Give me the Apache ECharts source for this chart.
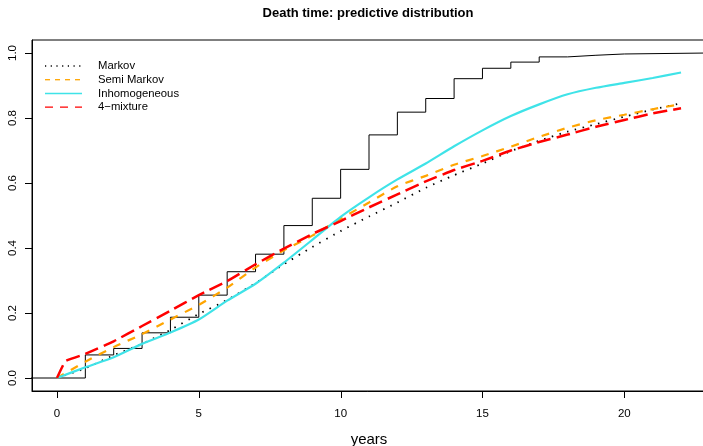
<!DOCTYPE html>
<html>
<head>
<meta charset="utf-8">
<script src="https://cdn.jsdelivr.net/npm/echarts@6/dist/echarts.min.js"></script>
<style>
  html, body { margin: 0; padding: 0; background: #fff; }
  #chart { width: 703px; height: 446px; }
</style>
</head>
<body>
<div id="chart"></div>
<script>
// curves, one value per year
const years = [0,1,2,3,4,5,6,7,8,9,10,11,12,13,14,15,16,17,18,19,20,21,22];
const markov = [0,0.03,0.07,0.105,0.148,0.197,0.24,0.292,0.35,0.403,0.452,0.497,0.54,0.585,0.624,0.66,0.698,0.73,0.758,0.781,0.804,0.826,0.845];
const semiMarkov = [0,0.05,0.095,0.135,0.18,0.225,0.278,0.34,0.393,0.438,0.49,0.54,0.59,0.622,0.656,0.683,0.712,0.742,0.77,0.793,0.81,0.827,0.843];
const inhomogeneous = [0,0.033,0.064,0.105,0.14,0.18,0.238,0.29,0.355,0.425,0.496,0.556,0.611,0.66,0.713,0.762,0.806,0.842,0.873,0.893,0.908,0.923,0.94];
// 4-mixture jumps just after 0
const mixtureYears = [0,0.3,1,2,3,4,5,6,7,8,9,10,11,12,13,14,15,16,17,18,19,20,21,22];
const mixture = [0,0.052,0.074,0.113,0.16,0.207,0.255,0.298,0.35,0.398,0.443,0.483,0.525,0.565,0.605,0.64,0.668,0.70,0.726,0.749,0.773,0.794,0.814,0.83];
// observed step function
const stepYears = [-1,0,1,2,3,4,5,6,7,8,9,10,11,12,13,14,15,16,17,18,19,20,23];
const stepValues = [0,0,0.071,0.091,0.139,0.187,0.255,0.327,0.381,0.469,0.553,0.642,0.748,0.818,0.86,0.921,0.953,0.972,0.988,0.993,0.997,1,1];

const xTicks = [0,5,10,15,20];
const yTicks = [0,0.2,0.4,0.6,0.8,1];
const xRange = [-0.88, 22.88];
const yRange = [-0.04, 1.04];

const font = 'Liberation Sans, Arial, Helvetica, sans-serif';
const W = 703, H = 446;
const gridPos = { left: 32, top: 40, right: -3, bottom: 55 };

const pairs = (xs, ys) => xs.map((x, i) => [x, ys[i]]);

const chart = echarts.init(document.getElementById('chart'));

const legendItems = [
  { name: 'Markov', color: '#000', width: 1.3, dash: [1.2, 4.5] },
  { name: 'Semi Markov', color: '#FFA500', width: 1.3, dash: [5, 5] },
  { name: 'Inhomogeneous', color: '#3FE3E8', width: 1.5, dash: null },
  { name: '4\u2212mixture', color: '#FF0000', width: 1.3, dash: [8, 7] }
];

const graphics = [
  {
    type: 'text', x: 368, y: 13,
    style: { text: 'Death time: predictive distribution', fill: '#000', font: 'bold 13px ' + font, align: 'center', verticalAlign: 'middle' }
  }
];
legendItems.forEach((it, i) => {
  const y = 66 + i * 13.7;
  graphics.push({
    type: 'line',
    shape: { x1: 45, y1: y, x2: 82, y2: y },
    style: { stroke: it.color, lineWidth: it.width, lineDash: it.dash }
  });
  graphics.push({
    type: 'text',
    x: 98, y: y,
    style: { text: it.name, fill: '#000', font: '11.3px ' + font, verticalAlign: 'middle' }
  });
});

// outward tick marks, same linear mapping as the grid
const plotW = W - gridPos.left - gridPos.right;
const plotH = H - gridPos.top - gridPos.bottom;
const xPx = v => gridPos.left + (v - xRange[0]) / (xRange[1] - xRange[0]) * plotW;
const yPx = v => gridPos.top + (yRange[1] - v) / (yRange[1] - yRange[0]) * plotH;
const boxBottom = gridPos.top + plotH;
const boxLeft = gridPos.left;
xTicks.forEach(v => {
  const px = Math.round(xPx(v)) + 0.5;
  graphics.push({ type: 'line', z: 100, shape: { x1: px, y1: boxBottom, x2: px, y2: boxBottom + 7 }, style: { stroke: '#000', lineWidth: 1 } });
});
yTicks.forEach(v => {
  const py = Math.round(yPx(v)) + 0.5;
  graphics.push({ type: 'line', z: 100, shape: { x1: boxLeft - 7, y1: py, x2: boxLeft, y2: py }, style: { stroke: '#000', lineWidth: 1 } });
});

const option = {
  animation: false,
  backgroundColor: '#fff',
  grid: Object.assign({
    show: true,
    outerBoundsMode: 'none',
    containLabel: false,
    borderColor: '#000', borderWidth: 1,
    backgroundColor: 'transparent'
  }, gridPos),
  xAxis: {
    type: 'value',
    min: xRange[0], max: xRange[1],
    name: 'years',
    nameLocation: 'middle',
    nameGap: 41,
    nameTextStyle: { fontSize: 15, color: '#000', fontFamily: font },
    axisLine: { show: true, onZero: false, lineStyle: { color: '#000', width: 1 } },
    axisTick: { show: false },
    axisLabel: { customValues: xTicks, margin: 17, fontSize: 11.5, color: '#000', fontFamily: font },
    splitLine: { show: false }
  },
  yAxis: {
    type: 'value',
    min: yRange[0], max: yRange[1],
    axisLine: { show: true, onZero: false, lineStyle: { color: '#000', width: 1 } },
    axisTick: { show: false },
    axisLabel: {
      customValues: yTicks, rotate: 90, margin: 13, fontSize: 11.5, color: '#000', fontFamily: font,
      formatter: v => v.toFixed(1)
    },
    splitLine: { show: false }
  },
  graphic: graphics,
  series: [
    {
      name: 'observed', type: 'line', step: 'end', symbol: 'none',
      data: pairs(stepYears, stepValues),
      lineStyle: { color: '#000', width: 1 }
    },
    {
      name: 'Markov', type: 'line', smooth: 0.2, symbol: 'none',
      data: pairs(years, markov),
      lineStyle: { color: '#000', width: 1.8, type: [1.5, 6.5] }
    },
    {
      name: 'Semi Markov', type: 'line', smooth: 0.2, symbol: 'none',
      data: pairs(years, semiMarkov),
      lineStyle: { color: '#FFA500', width: 2.2, type: [8, 8] }
    },
    {
      name: 'Inhomogeneous', type: 'line', smooth: 0.2, symbol: 'none',
      data: pairs(years, inhomogeneous),
      lineStyle: { color: '#3FE3E8', width: 2.2 }
    },
    {
      name: '4\u2212mixture', type: 'line', smooth: 0.1, symbol: 'none',
      data: pairs(mixtureYears, mixture),
      lineStyle: { color: '#FF0000', width: 2.5, type: [14, 6] }
    }
  ]
};

chart.setOption(option);
</script>
</body>
</html>
